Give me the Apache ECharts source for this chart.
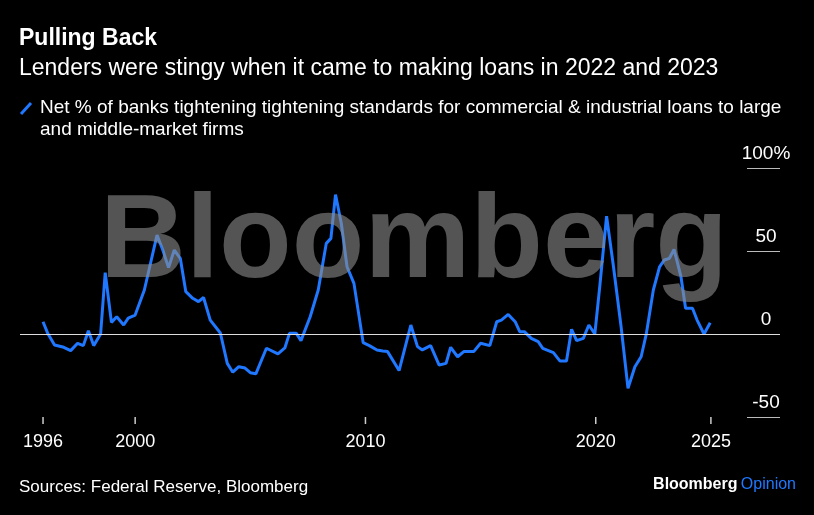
<!DOCTYPE html><html><head><meta charset="utf-8"><script src="https://cdn.jsdelivr.net/npm/echarts@6/dist/echarts.min.js"></script>
<style>html,body{margin:0;background:#000}#c{width:814px;height:515px}</style></head><body><div id="c"></div><script>
const years=[1996.0,1996.2,1996.5,1996.9,1997.2,1997.5,1997.75,1997.97,1998.2,1998.5,1998.7,1998.97,1999.2,1999.5,1999.7,2000.0,2000.4,2000.7,2000.95,2001.2,2001.45,2001.7,2001.96,2002.2,2002.5,2002.75,2002.97,2003.26,2003.7,2004.0,2004.24,2004.5,2004.77,2005.0,2005.24,2005.7,2006.2,2006.5,2006.7,2007.0,2007.2,2007.6,2007.95,2008.3,2008.5,2008.7,2008.95,2009.2,2009.5,2009.9,2010.17,2010.5,2010.75,2010.96,2011.46,2011.97,2012.26,2012.47,2012.83,2013.2,2013.5,2013.7,2014.0,2014.27,2014.7,2015.0,2015.4,2015.7,2015.9,2016.2,2016.5,2016.7,2016.9,2017.2,2017.5,2017.7,2018.16,2018.45,2018.73,2018.95,2019.17,2019.46,2019.7,2019.96,2020.18,2020.47,2020.75,2021.1,2021.4,2021.7,2021.97,2022.2,2022.5,2022.77,2022.98,2023.2,2023.4,2023.7,2023.9,2024.2,2024.4,2024.7,2024.97];
const values=[7.4,0.5,-6.6,-8,-10,-5.6,-7,2,-7,0,37,7,10.4,5.4,9.6,11.4,26.5,44.6,59.6,50.6,40,50.6,45.6,25.5,21.5,19.5,22,8.4,0.6,-17.7,-23,-19.7,-20.5,-23.3,-24,-8.6,-12,-8.4,0.4,0.4,-4,10.4,26.5,54.6,57.6,84,66.7,40.5,30.5,-5.2,-7,-9.6,-10.2,-10.6,-22,5.4,-7.6,-9.6,-7,-18.7,-17.7,-8,-13.7,-10.6,-10.6,-5.6,-7,7.4,8.4,11.8,7.4,1.4,1.4,-2.6,-4.6,-8.6,-11.2,-16.3,-16.3,2.8,-4,-2.6,5.4,0,29.5,71,42.6,4.4,-32.7,-19.7,-13.7,0.4,26.5,40.5,44.6,45.6,51,34.5,15.5,15.5,8.4,0,6.8];
const xTicks=[1996,2000,2010,2020,2025];
const yTicks=[-50,0,50,100];
const chart=echarts.init(document.getElementById('c'));
const F='Helvetica, Arial, "Liberation Sans", sans-serif';
chart.setOption({
 backgroundColor:'#000',animation:false,
 grid:{left:20,right:34,top:168,bottom:98},
 xAxis:{type:'value',min:1995,max:2028,interval:1,splitLine:{show:false},axisLine:{show:false},axisTick:{show:false},
  axisLabel:{margin:16,color:'#fff',fontSize:18,fontFamily:F,formatter:v=>xTicks.includes(v)?String(v):''}},
 yAxis:{type:'value',position:'right',min:-50,max:100,interval:50,splitLine:{show:false},axisLine:{show:false},
  axisTick:{show:true,inside:true,length:33,lineStyle:{color:'#bbb',width:1}},
  axisLabel:{inside:false,margin:-14,align:'center',verticalAlign:'bottom',padding:[0,0,5,0],color:'#fff',fontSize:19,fontFamily:F,
   formatter:v=>v===100?'100%':String(v),showMinLabel:true,showMaxLabel:true}},
 graphic:[
  {type:'text',left:19,top:27,style:{text:'Pulling Back',fill:'#fff',font:'bold 23px '+F}},
  {type:'text',left:19,top:57,style:{text:'Lenders were stingy when it came to making loans in 2022 and 2023',fill:'#fff',font:'23px '+F}},
  {type:'line',shape:{x1:21,y1:114,x2:31,y2:103},style:{stroke:'#1f78ff',lineWidth:3}},
  {type:'text',left:40,top:97,style:{text:'Net % of banks tightening tightening standards for commercial & industrial loans to large\nand middle-market firms',fill:'#fff',font:'19px '+F,lineHeight:22}},
  {type:'text',left:19,top:479,style:{text:'Sources: Federal Reserve, Bloomberg',fill:'#fff',font:'17px '+F}},
  {type:'text',right:18,top:477,style:{text:'{a|Bloomberg} {b|Opinion}',rich:{a:{fill:'#fff',font:'bold 16px '+F},b:{fill:'#1f78ff',font:'16px '+F}}}},
  {type:'text',left:100,top:185,z:100,style:{text:'Bloomberg',fill:'rgba(140,140,140,0.6)',font:'bold 119px '+F}}
 ],
 series:[
  {type:'line',data:years.map((y,i)=>[y,values[i]]),showSymbol:false,lineStyle:{color:'#1f78ff',width:3},
   markLine:{silent:true,symbol:'none',label:{show:false},lineStyle:{color:'#ddd',width:1,type:'solid'},data:[{yAxis:0}]}},
  {type:'custom',data:xTicks.map(y=>[y,-50]),renderItem:(p,api)=>{const pt=api.coord([api.value(0),-50]);
    return {type:'line',shape:{x1:pt[0],y1:pt[1],x2:pt[0],y2:pt[1]+7},style:{stroke:'#ccc',lineWidth:1.5}};}}
 ]
});
</script></body></html>
